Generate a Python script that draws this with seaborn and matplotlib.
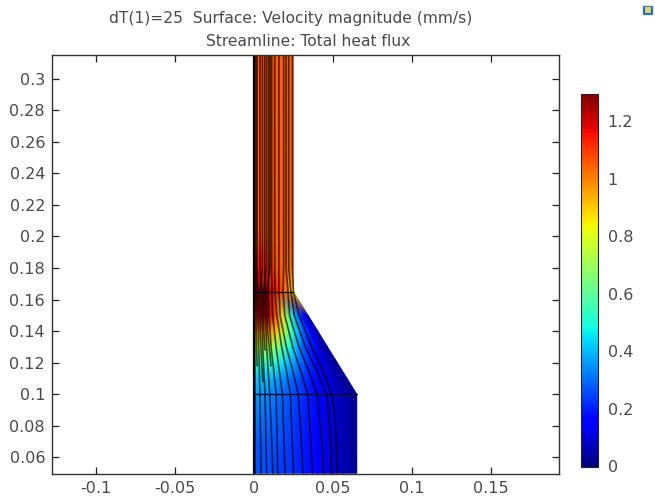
import numpy as np
import pandas as pd
import matplotlib
matplotlib.use('Agg')
import matplotlib.pyplot as plt
from matplotlib.patches import Rectangle
import seaborn as sns

# Surface values: y level, then local width fraction
surface_y = [0.05, 0.07, 0.1, 0.11, 0.12, 0.13, 0.14, 0.15, 0.165, 0.18, 0.2, 0.315]
surface_w = [0.065, 0.065, 0.065, 0.0589, 0.0527, 0.0465, 0.0404, 0.0342, 0.025, 0.025, 0.025, 0.025]
surface_s = [0, 0.125, 0.25, 0.375, 0.5, 0.625, 0.75, 0.875, 1]
surface_v = [
    [0.26, 0.26, 0.24, 0.22, 0.19, 0.15, 0.10, 0.06, 0.03],
    [0.28, 0.27, 0.26, 0.23, 0.19, 0.15, 0.10, 0.06, 0.02],
    [0.36, 0.34, 0.30, 0.26, 0.21, 0.16, 0.11, 0.06, 0.02],
    [0.42, 0.41, 0.37, 0.31, 0.25, 0.18, 0.12, 0.06, 0.02],
    [0.55, 0.55, 0.52, 0.43, 0.34, 0.24, 0.15, 0.08, 0.02],
    [0.72, 0.72, 0.70, 0.62, 0.48, 0.32, 0.20, 0.10, 0.02],
    [0.95, 0.98, 0.97, 0.88, 0.70, 0.48, 0.30, 0.17, 0.03],
    [1.15, 1.20, 1.20, 1.12, 0.90, 0.65, 0.40, 0.20, 0.05],
    [1.28, 1.27, 1.25, 1.22, 1.17, 1.12, 1.05, 0.98, 0.88],
    [1.16, 1.16, 1.14, 1.11, 1.08, 1.06, 1.04, 1.02, 1.00],
    [1.06, 1.06, 1.06, 1.06, 1.05, 1.05, 1.05, 1.04, 1.03],
    [1.06, 1.06, 1.06, 1.06, 1.05, 1.05, 1.05, 1.04, 1.03],
]

# Streamlines: x position of each line at these y levels
stream_y = [0.05, 0.07, 0.085, 0.1, 0.115, 0.13, 0.15, 0.165, 0.18, 0.315]
stream_x = [
    [0.0006, 0.0006, 0.0006, 0.0006, 0.0006, 0.0006, 0.0006, 0.0006, 0.0004, 0.0004],
    [0.0044, 0.0042, 0.0040, 0.0038, 0.0034, 0.0030, 0.0027, 0.0025, 0.0019, 0.0019],
    [0.0080, 0.0076, 0.0073, 0.0070, 0.0062, 0.0056, 0.0050, 0.0050, 0.0038, 0.0038],
    [0.0120, 0.0112, 0.0106, 0.0100, 0.0090, 0.0080, 0.0072, 0.0070, 0.0068, 0.0068],
    [0.0150, 0.0147, 0.0143, 0.0140, 0.0125, 0.0108, 0.0095, 0.0090, 0.0093, 0.0093],
    [0.0196, 0.0190, 0.0185, 0.0180, 0.0160, 0.0140, 0.0118, 0.0114, 0.0112, 0.0112],
    [0.0250, 0.0242, 0.0236, 0.0230, 0.0205, 0.0175, 0.0145, 0.0133, 0.0131, 0.0131],
    [0.0310, 0.0300, 0.0290, 0.0280, 0.0245, 0.0205, 0.0165, 0.0158, 0.0158, 0.0158],
    [0.0370, 0.0360, 0.0350, 0.0340, 0.0295, 0.0245, 0.0195, 0.0184, 0.0188, 0.0188],
    [0.0440, 0.0430, 0.0415, 0.0400, 0.0345, 0.0285, 0.0225, 0.0215, 0.0203, 0.0203],
    [0.0490, 0.0485, 0.0475, 0.0460, 0.0395, 0.0325, 0.0255, 0.0234, 0.0220, 0.0220],
    [0.0525, 0.0522, 0.0513, 0.0492, 0.0435, 0.0365, 0.0285, 0.0250, 0.0243, 0.0243],
]

# Shorter streamlines in the neck, starting at different heights
short_y = [0.108, 0.118, 0.128, 0.14, 0.15, 0.165, 0.18, 0.315]
nan = float('nan')
short_x = [
    [nan, 0.0020, 0.0017, 0.0016, 0.0016, 0.0015, 0.0012, 0.0012],
    [0.0056, 0.0050, 0.0045, 0.0040, 0.0038, 0.0037, 0.0053, 0.0053],
    [nan, nan, 0.0070, 0.0062, 0.0060, 0.0060, 0.0080, 0.0080],
    [nan, 0.0108, 0.0098, 0.0086, 0.0083, 0.0080, 0.0102, 0.0102],
]

x_ticks = [-0.1, -0.05, 0, 0.05, 0.1, 0.15]
x_labels = ['-0.1', '-0.05', '0', '0.05', '0.1', '0.15']
y_ticks = [0.06, 0.08, 0.1, 0.12, 0.14, 0.16, 0.18, 0.2, 0.22, 0.24, 0.26, 0.28, 0.3]
y_labels = ['0.06', '0.08', '0.1', '0.12', '0.14', '0.16', '0.18', '0.2', '0.22', '0.24', '0.26', '0.28', '0.3']
bar_ticks = [0, 0.2, 0.4, 0.6, 0.8, 1, 1.2]
bar_labels = ['0', '0.2', '0.4', '0.6', '0.8', '1', '1.2']

text_color = '#4a4a4a'
W, H = 655, 499

sns.set_style('ticks')
plt.rcParams['font.family'] = ['DejaVu Sans']

fig = plt.figure(figsize=(W / 100, H / 100), dpi=100)
ax = fig.add_axes([52 / W, (H - 474) / H, (559 - 52) / W, (474 - 55) / H])

# Surface plot
surface = np.array(surface_v)
X = np.outer(surface_w, surface_s)
Y = np.repeat(np.array(surface_y)[:, None], len(surface_s), axis=1)
mesh = ax.pcolormesh(X, Y, surface, cmap='jet', vmin=0, vmax=1.295, shading='gouraud')

# Streamlines
rows = []
for i, line in enumerate(stream_x):
    rows.append(pd.DataFrame({'x': line, 'y': stream_y, 'line': i}))
for i, line in enumerate(short_x):
    rows.append(pd.DataFrame({'x': line, 'y': short_y, 'line': 100 + i}).dropna())
streams = pd.concat(rows)
sns.lineplot(data=streams, x='x', y='y', units='line', estimator=None, sort=False,
             color='black', linewidth=1.2, alpha=0.65, ax=ax, legend=False)

# Subdomain boundaries
ax.plot([0, 0.025], [0.165, 0.165], color='black', lw=0.9)
ax.plot([0, 0.065], [0.1, 0.1], color='black', lw=0.9)
ax.plot([0, 0], [0.05, 0.315], color='black', lw=1.6)

ax.set_xlim(-0.1278, 0.193)
ax.set_ylim(0.0495, 0.315)
ax.set_xlabel('')
ax.set_ylabel('')
ax.set_xticks(x_ticks, x_labels)
ax.set_yticks(y_ticks, y_labels)
ax.tick_params(direction='in', top=True, right=True, length=5, width=0.9,
               labelsize=11.5, labelcolor=text_color, color='#222222', pad=5)
for s in ax.spines.values():
    s.set_visible(True)
    s.set_color('#333333')
    s.set_linewidth(1.0)

fig.text(291 / W, 1 - 19 / H, 'dT(1)=25  Surface: Velocity magnitude (mm/s)',
         ha='center', va='center', fontsize=11.2, color=text_color)
fig.text(308.5 / W, 1 - 41 / H, 'Streamline: Total heat flux',
         ha='center', va='center', fontsize=11.2, color=text_color)

# Colour bar
cax = fig.add_axes([581 / W, (H - 466.5) / H, 17 / W, 372.5 / H])
cb = fig.colorbar(mesh, cax=cax)
cb.set_ticks(bar_ticks, labels=bar_labels)
cax.tick_params(length=0, labelsize=11.5, labelcolor=text_color, pad=7)
cb.outline.set_edgecolor('#222222')
cb.outline.set_linewidth(0.8)

# Small window icon in the corner
fig.add_artist(Rectangle((642 / W, 1 - 15 / H), 11 / W, 10 / H, transform=fig.transFigure,
                         facecolor='#1f5fa8', edgecolor='#dfe6ee', lw=1))
fig.add_artist(Rectangle((645 / W, 1 - 13 / H), 6 / W, 6 / H, transform=fig.transFigure,
                         facecolor='#d8d870', edgecolor='none'))

fig.savefig('out.png', dpi=100)
